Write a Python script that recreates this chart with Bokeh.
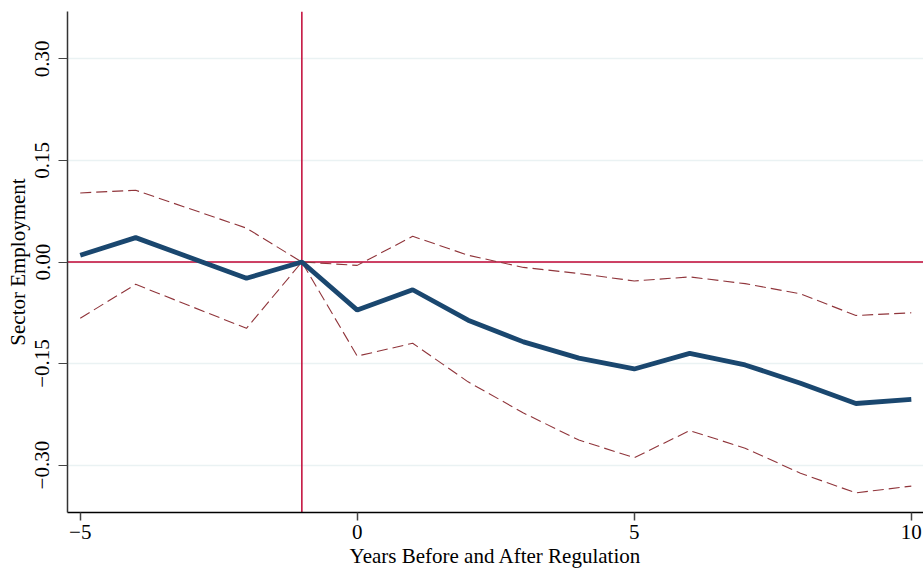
from bokeh.plotting import figure
from bokeh.models import Range1d, FixedTicker, Span, ColumnDataSource
from bokeh.embed import file_html
from bokeh.resources import INLINE

# Data
years = [-5, -4, -2, -1, 0, 1, 2, 3, 4, 5, 6, 7, 8, 9, 10]
estimate = [0.010, 0.036, -0.024, 0.000, -0.071, -0.041, -0.086, -0.118, -0.142,
            -0.158, -0.135, -0.152, -0.179, -0.209, -0.203]
upper_ci = [0.102, 0.106, 0.050, 0.000, -0.005, 0.038, 0.010, -0.008, -0.017,
            -0.028, -0.022, -0.032, -0.047, -0.079, -0.075]
lower_ci = [-0.083, -0.033, -0.098, 0.000, -0.139, -0.120, -0.177, -0.223, -0.263,
            -0.289, -0.249, -0.275, -0.312, -0.341, -0.331]
x_ticks = [-5, 0, 5, 10]
x_tick_labels = ["\u22125", "0", "5", "10"]
y_ticks = [-0.30, -0.15, 0.0, 0.15, 0.30]
y_tick_labels = ["\u22120.30", "\u22120.15", "0.00", "0.15", "0.30"]
ref_year = -1
ref_value = 0.0

FONT = "Liberation Serif"

src = ColumnDataSource(dict(x=years, est=estimate, hi=upper_ci, lo=lower_ci))

p = figure(width=923, height=572, output_backend="svg", toolbar_location=None,
           x_range=Range1d(-5.23, 10.22), y_range=Range1d(-0.37, 0.37),
           min_border_left=67, min_border_right=0, min_border_top=11, min_border_bottom=60)
p.outline_line_color = None
p.background_fill_color = "white"
p.border_fill_color = "white"

# grid
p.xgrid.grid_line_color = None
p.ygrid.ticker = FixedTicker(ticks=y_ticks)
p.ygrid.grid_line_color = "#eaf2f3"
p.ygrid.grid_line_width = 1.5

# reference lines
p.add_layout(Span(location=ref_value, dimension="width", line_color="#c10534",
                  line_width=1.5, level="underlay"))
p.add_layout(Span(location=ref_year, dimension="height", line_color="#c10534",
                  line_width=1.5, level="underlay"))

# CI and estimate
p.line("x", "hi", source=src, line_color="#90353b", line_width=1.1, line_dash="11 5")
p.line("x", "lo", source=src, line_color="#90353b", line_width=1.1, line_dash="11 5")
p.line("x", "est", source=src, line_color="#1a476f", line_width=4.8)

# axes
xa = p.xaxis[0]
xa.ticker = FixedTicker(ticks=x_ticks)
xa.major_label_overrides = {t: l for t, l in zip(x_ticks, x_tick_labels)}
xa.axis_label = "Years Before and After Regulation"
xa.minor_tick_line_color = None
xa.major_tick_out = 8
xa.major_tick_in = 0
xa.axis_line_color = "#000000"
xa.major_tick_line_color = "#444444"
xa.major_tick_line_width = 1.5
xa.axis_line_width = 1.5
xa.major_label_text_font = FONT
xa.major_label_text_font_size = "21px"
xa.major_label_text_color = "black"
xa.major_label_standoff = 4
xa.axis_label_text_font = FONT
xa.axis_label_text_font_size = "21px"
xa.axis_label_text_font_style = "normal"
xa.axis_label_text_color = "black"
xa.axis_label_standoff = 2

ya = p.yaxis[0]
ya.ticker = FixedTicker(ticks=y_ticks)
ya.major_label_overrides = {t: l for t, l in zip(y_ticks, y_tick_labels)}
ya.major_label_orientation = "vertical"
ya.axis_label = "Sector Employment"
ya.minor_tick_line_color = None
ya.major_tick_out = 9
ya.major_tick_in = 0
ya.axis_line_color = "#333333"
ya.axis_line_width = 1.5
ya.major_tick_line_color = "#444444"
ya.major_tick_line_width = 1.2
ya.major_label_text_font = FONT
ya.major_label_text_font_size = "21px"
ya.major_label_text_color = "black"
ya.major_label_standoff = 9
ya.axis_label_text_font = FONT
ya.axis_label_text_font_size = "21px"
ya.axis_label_text_font_style = "normal"
ya.axis_label_text_color = "black"
ya.axis_label_standoff = 3

open("out.html", "w").write(file_html(p, INLINE))
